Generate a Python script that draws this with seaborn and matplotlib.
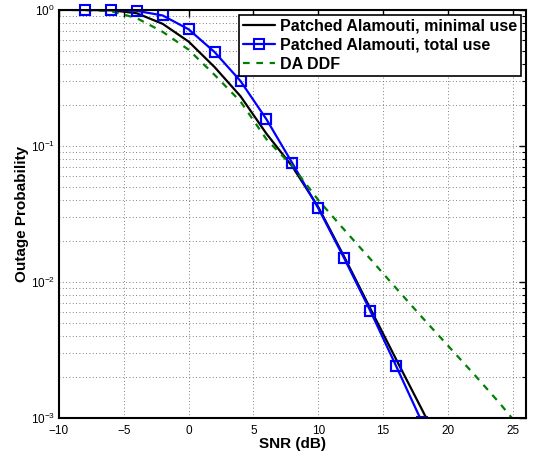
import seaborn as sns
import matplotlib.pyplot as plt
from matplotlib.ticker import LogLocator, NullFormatter

# data
snr_min = [-10, -8, -6, -4, -2, 0, 2, 4, 6, 8, 10, 12, 14, 16, 18, 20]
pout_min = [1.0, 0.999, 0.995, 0.945, 0.79, 0.585, 0.38, 0.232, 0.123, 0.0705,
            0.0355, 0.0153, 0.0064, 0.0027, 0.00115, 0.00048]

snr_tot = [-8, -6, -4, -2, 0, 2, 4, 6, 8, 10, 12, 14, 16, 18]
pout_tot = [1.0, 0.997, 0.985, 0.91, 0.72, 0.49, 0.30, 0.157, 0.0746, 0.0348,
            0.0149, 0.00615, 0.00241, 0.00093]

snr_ddf = [-10, -8, -6, -4, -2, 0, 2, 4, 6, 8, 10, 12, 14, 16, 18, 20, 22, 24, 25]
pout_ddf = [1.0, 0.998, 0.98, 0.87, 0.69, 0.51, 0.333, 0.212, 0.112, 0.071,
            0.040, 0.0242, 0.0148, 0.0090, 0.0055, 0.0034, 0.0021, 0.00128, 0.00098]

labels = ["Patched Alamouti, minimal use", "Patched Alamouti, total use", "DA DDF"]
x_ticks = [-10, -5, 0, 5, 10, 15, 20, 25]

# 1 | canvas
sns.set_style("white")
plt.rcParams['font.family'] = ['Liberation Sans', 'DejaVu Sans']
plt.rcParams['mathtext.fontset'] = 'custom'
plt.rcParams['mathtext.rm'] = 'Liberation Sans'
for key in ['text.color', 'axes.labelcolor', 'xtick.color', 'ytick.color']:
    plt.rcParams[key] = 'black'

fig = plt.figure(figsize=(5.36, 4.57), dpi=100)
ax = fig.add_axes([0.110, 0.0853, 0.871, 0.893])

# 2 | curves
mk = dict(marker="s", markersize=7, markerfacecolor="none",
          markeredgecolor="blue", markeredgewidth=1.5)
sns.lineplot(x=snr_min, y=pout_min, ax=ax, color="black", linewidth=1.6, label=labels[0])
sns.lineplot(x=snr_tot, y=pout_tot, ax=ax, color="blue", linewidth=1.6,
             label=labels[1], **mk)
sns.lineplot(x=snr_ddf, y=pout_ddf, ax=ax, color="green", linewidth=1.6,
             linestyle=(0, (3, 3)), label=labels[2])
# markers on the top edge are not cut in the reference
inside = [i for i, p in enumerate(pout_tot) if p >= 1e-3]
top = sns.lineplot(x=[snr_tot[i] for i in inside], y=[pout_tot[i] for i in inside],
                   ax=ax, linestyle="none", legend=False, **mk)
top.lines[-1].set_clip_on(False)

# 3 | axes
ax.set_yscale("log")
ax.set_xlim(-10, 26)
ax.set_ylim(1e-3, 1)
ax.set_xticks(x_ticks)
ax.set_xticklabels([str(v).replace('-', '\u2212') for v in x_ticks])
ax.yaxis.set_major_locator(LogLocator(base=10, numticks=10))
ax.yaxis.set_minor_locator(LogLocator(base=10, subs=range(2, 10), numticks=20))
ax.yaxis.set_minor_formatter(NullFormatter())
ax.tick_params(which="both", direction="in", top=True, right=True, labelsize=8.5)
ax.tick_params(axis="x", pad=5)
ax.tick_params(axis="y", pad=3)
ax.tick_params(which="major", length=5, width=1)
ax.tick_params(which="minor", length=3, width=0.8)
ax.grid(True, which="major", color="#555555", linestyle=(0, (1, 3)), linewidth=0.6)
ax.grid(True, which="minor", axis="y", color="#555555", linestyle=(0, (1, 3)), linewidth=0.6)
for s in ax.spines.values():
    s.set_linewidth(1.5)
    s.set_color("black")

ax.set_xlabel("SNR (dB)", fontsize=11, fontweight="bold", labelpad=0)
ax.set_ylabel("Outage Probability", fontsize=11, fontweight="bold", labelpad=1)

# 4 | legend
leg = ax.legend(loc="upper right", prop={"weight": "bold", "size": 11.5},
                frameon=True, fancybox=False, edgecolor="black", borderpad=0.25,
                handlelength=2.0, handletextpad=0.3, labelspacing=0.25,
                borderaxespad=0.3)
leg.get_frame().set_linewidth(1.2)
leg.get_frame().set_alpha(1)

fig.savefig("out.png", dpi=100)
plt.close()
